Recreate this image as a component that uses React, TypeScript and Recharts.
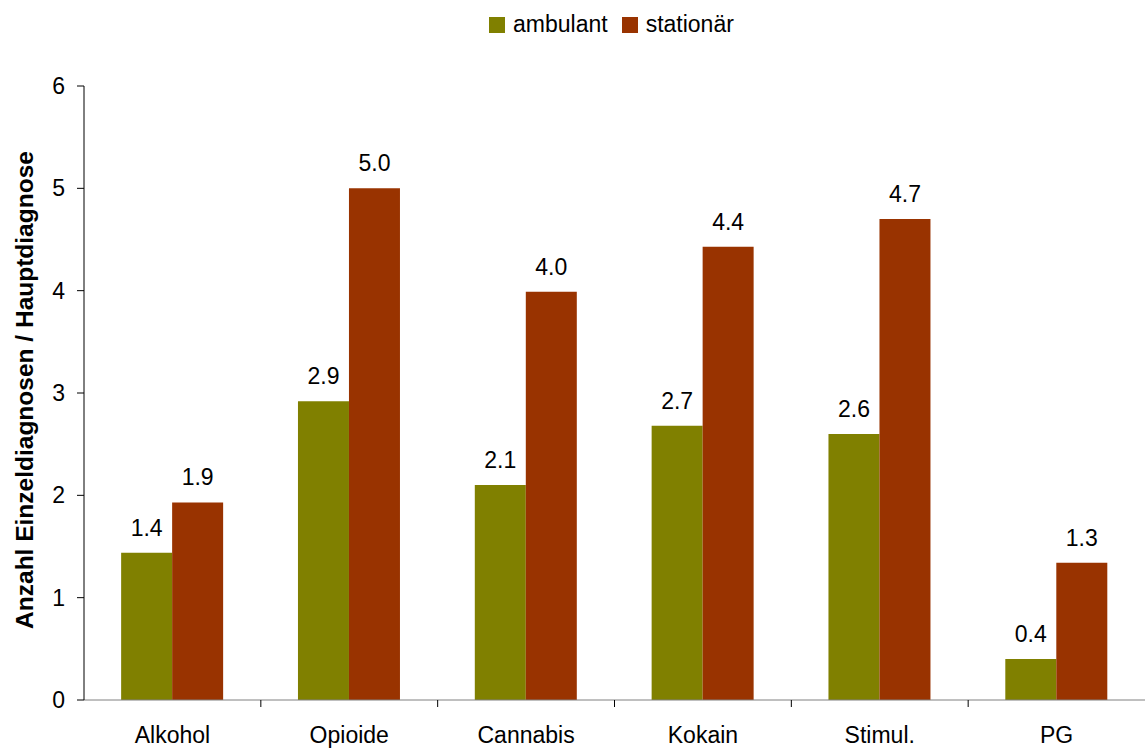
import { BarChart, Bar, XAxis, YAxis, LabelList } from 'recharts'

const categories = ['Alkohol', 'Opioide', 'Cannabis', 'Kokain', 'Stimul.', 'PG']
const ambulant = [1.44, 2.92, 2.1, 2.68, 2.6, 0.4]
const stationaer = [1.93, 5.0, 3.99, 4.43, 4.7, 1.34]
const yTicks = [0, 1, 2, 3, 4, 5, 6]

const data = categories.map((name, i) => ({ name, ambulant: ambulant[i], stationaer: stationaer[i] }))

if (typeof document !== 'undefined') {
  document.body.style.margin = '0'
  document.body.style.overflow = 'hidden'
}

const font = '"Liberation Sans", Arial, sans-serif'
const W = 1145
const H = 749
const LEFT = 84
const bandW = (W - LEFT) / categories.length

const CatTick = ({ x, y, payload, index }: any) => (
  <g>
    {index > 0 && <line x1={x - bandW / 2} x2={x - bandW / 2} y1={y - 8} y2={y - 1} stroke="#000" />}
    <text x={x} y={y + 35} textAnchor="middle" fontSize={23} fill="#000" fontFamily={font}>
      {payload.value}
    </text>
  </g>
)

const YTitle = ({ viewBox }: any) => {
  const cx = viewBox.x + viewBox.width - 51
  const cy = viewBox.y + viewBox.height / 2 - 3
  return (
    <text
      transform={`translate(${cx},${cy}) rotate(-90)`}
      textAnchor="middle"
      fontSize={24.5}
      fontWeight="bold"
      fill="#000"
      fontFamily={font}
    >
      Anzahl Einzeldiagnosen / Hauptdiagnose
    </text>
  )
}

const LegendBox = () => (
  <div style={{ position: 'absolute', top: 11, left: 489, display: 'flex', gap: 14, fontFamily: font, fontSize: 23, color: '#000' }}>
    {[['ambulant', '#808000'], ['stationär', '#993300']].map(([n, c]) => (
      <div key={n} style={{ display: 'flex', alignItems: 'center', gap: 8 }}>
        <div style={{ width: 16, height: 16, background: c }} />
        <span>{n}</span>
      </div>
    ))}
  </div>
)

const labelStyle = { fontSize: 23, fill: '#000', fontFamily: font }

export default function App() {
  return (
    <div style={{ width: W, height: H, position: 'relative', fontFamily: font }}>
      <LegendBox />
      <BarChart
        width={W}
        height={H}
        data={data}
        margin={{ top: 86, right: 0, bottom: 0, left: LEFT - 60 }}
        barCategoryGap="21%"
        barGap={0}
      >
        <XAxis
          dataKey="name"
          axisLine={{ stroke: '#808080' }}
          tickLine={false}
          tick={<CatTick />}
          interval={0}
          height={49}
        />
        <YAxis
          domain={[0, 6]}
          ticks={yTicks}
          width={60}
          axisLine={{ stroke: '#000' }}
          tickLine={{ stroke: '#000' }}
          tickSize={7}
          tickMargin={12}
          tick={{ fontSize: 23, fill: '#000', fontFamily: font }}
          label={<YTitle />}
        />
        <Bar dataKey="ambulant" fill="#808000" isAnimationActive={false}>
          <LabelList dataKey="ambulant" position="top" offset={17} formatter={(v: any) => Number(v).toFixed(1)} style={labelStyle} />
        </Bar>
        <Bar dataKey="stationaer" fill="#993300" isAnimationActive={false}>
          <LabelList dataKey="stationaer" position="top" offset={17} formatter={(v: any) => Number(v).toFixed(1)} style={labelStyle} />
        </Bar>
      </BarChart>
    </div>
  )
}
